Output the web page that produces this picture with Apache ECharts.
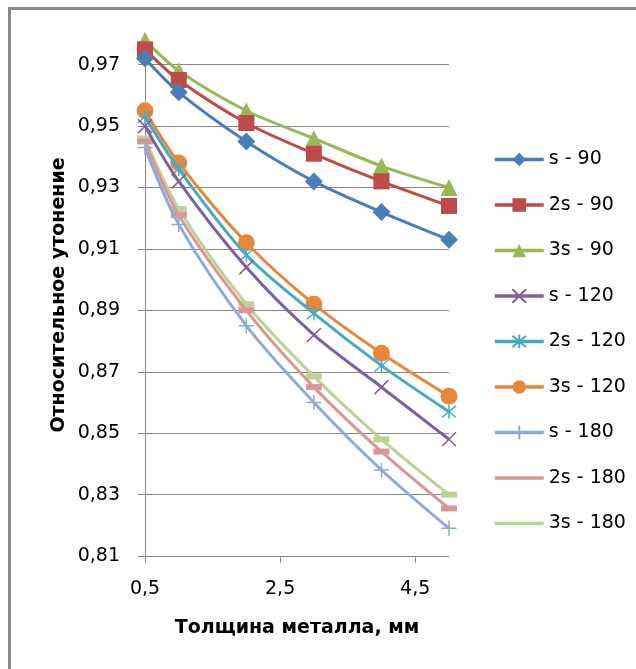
<!DOCTYPE html>
<html>
<head>
<meta charset="utf-8">
<script src="https://cdn.jsdelivr.net/npm/echarts@6/dist/echarts.min.js"></script>
<style>
html,body{margin:0;padding:0;background:#fff;overflow:hidden;}
#wrap{position:relative;width:636px;height:669px;overflow:hidden;}
#chart{position:absolute;left:0;top:0;width:636px;height:669px;}
#frame{position:absolute;left:8px;top:7px;width:700px;height:700px;border-left:3px solid #888;border-top:3px solid #888;pointer-events:none;}
</style>
</head>
<body>
<div id="wrap"><div id="chart"></div><div id="frame"></div></div>
<script>
// ---- data ----
const xValues = [0.5, 1, 2, 3, 4, 5];
const seriesNames = ['s - 90', '2s - 90', '3s - 90', 's - 120', '2s - 120', '3s - 120', 's - 180', '2s - 180', '3s - 180'];
const s_90   = [0.972, 0.961, 0.945, 0.932, 0.922, 0.913];
const s2_90  = [0.975, 0.965, 0.951, 0.941, 0.932, 0.924];
const s3_90  = [0.978, 0.968, 0.955, 0.946, 0.937, 0.930];
const s_120  = [0.950, 0.932, 0.904, 0.882, 0.865, 0.848];
const s2_120 = [0.953, 0.936, 0.908, 0.889, 0.872, 0.857];
const s3_120 = [0.955, 0.938, 0.912, 0.892, 0.876, 0.862];
const s_180  = [0.943, 0.918, 0.885, 0.860, 0.838, 0.819];
const s2_180 = [0.945, 0.921, 0.890, 0.865, 0.844, 0.8255];
const s3_180 = [0.946, 0.923, 0.892, 0.8685, 0.848, 0.830];
const xTicks = [0.5, 2.5, 4.5];
const yTicks = [0.81, 0.83, 0.85, 0.87, 0.89, 0.91, 0.93, 0.95, 0.97];
const xTitle = 'Толщина металла, мм';
const yTitle = 'Относительное утонение';

// ---- styling ----
const allData = [s_90, s2_90, s3_90, s_120, s2_120, s3_120, s_180, s2_180, s3_180];
const colors = ['#4A7EBB', '#BE4B48', '#98B954', '#7D60A0', '#46AAC5', '#E8873A', '#8EAAD6', '#D99694', '#BCD395'];
const symbols = [
  {symbol: 'diamond', size: 18},
  {symbol: 'rect', size: 16},
  {symbol: 'triangle', size: 17},
  {symbol: 'path://M0,0L10,10M10,0L0,10', size: 14, stroke: true},
  {symbol: 'path://M0,0L10,10M10,0L0,10M5,-1L5,11', size: 14, stroke: true},
  {symbol: 'circle', size: 17},
  {symbol: 'path://M5,0L5,10M0,5L10,5', size: 15, stroke: true},
  {symbol: 'rect', size: [16, 6], dash: true},
  {symbol: 'rect', size: [16, 6], dash: true}
];
const font = 'DejaVu Sans';

const series = seriesNames.map((name, i) => ({
  name: name,
  type: 'line',
  smooth: 0.3,
  data: xValues.map((x, j) => [x, allData[i][j]]),
  symbol: symbols[i].symbol,
  symbolSize: symbols[i].size,
  showAllSymbol: true,
  clip: false,
  z: 2 + (8 - i),
  lineStyle: {color: colors[i], width: 3},
  itemStyle: symbols[i].stroke
    ? {color: colors[i], borderColor: colors[i], borderWidth: 1.5}
    : {color: colors[i], borderWidth: 0},
  emphasis: {disabled: true}
}));

const legendData = seriesNames.map((name, i) => symbols[i].dash
  ? {name: name, itemStyle: {opacity: 0}}
  : {name: name});

const chart = echarts.init(document.getElementById('chart'), null, {renderer: 'canvas'});
chart.setOption({
  animation: false,
  backgroundColor: '#fff',
  color: colors,
  grid: {left: 145, right: 187, top: 34, bottom: 113, containLabel: false},
  legend: {
    orient: 'vertical',
    left: 488,
    top: 145,
    itemWidth: 49,
    itemHeight: 17,
    itemGap: 26.5,
    lineStyle: {width: 3.5},
    textStyle: {fontFamily: font, fontSize: 19, color: '#000'},
    data: legendData
  },
  xAxis: {
    type: 'value',
    min: 0.5,
    max: 5,
    name: xTitle,
    nameLocation: 'middle',
    nameGap: 63,
    nameTextStyle: {fontFamily: font, fontSize: 19, fontWeight: 'bold', color: '#000'},
    axisLine: {show: true, lineStyle: {color: '#868686', width: 1}},
    axisTick: {show: true, inside: false, length: 7, lineStyle: {color: '#868686'}, customValues: xTicks},
    axisLabel: {
      customValues: xTicks,
      margin: 24,
      fontFamily: font, fontSize: 19, color: '#000',
      formatter: v => String(v).replace('.', ',')
    },
    splitLine: {show: false}
  },
  yAxis: {
    type: 'value',
    min: 0.81,
    max: 0.98,
    name: yTitle,
    nameLocation: 'middle',
    nameGap: 76,
    nameRotate: 90,
    nameTextStyle: {fontFamily: font, fontSize: 19, fontWeight: 'bold', color: '#000'},
    axisLine: {show: true, lineStyle: {color: '#868686', width: 1}},
    axisTick: {show: true, inside: false, length: 7, lineStyle: {color: '#868686'}, customValues: yTicks},
    axisLabel: {
      customValues: yTicks,
      margin: 25,
      fontFamily: font, fontSize: 19, color: '#000',
      formatter: v => v.toFixed(2).replace('.', ',')
    },
    splitLine: {show: true, lineStyle: {color: '#868686', width: 1}}
  },
  series: series
});
</script>
</body>
</html>
